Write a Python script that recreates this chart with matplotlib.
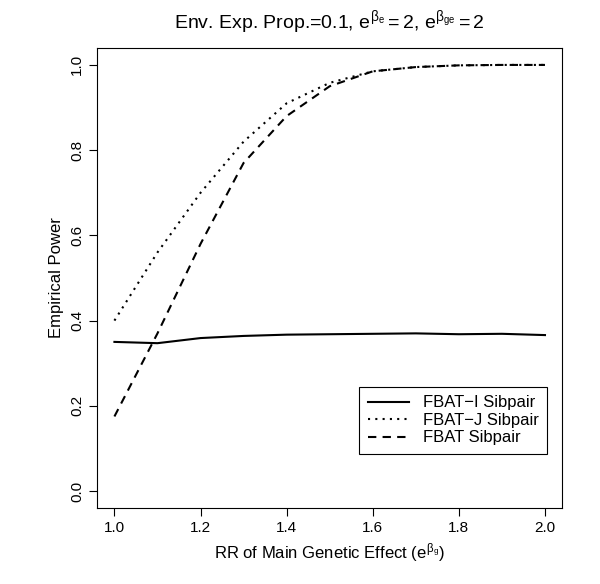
import matplotlib
matplotlib.use("Agg")
import matplotlib.pyplot as plt

plt.rcParams['font.family'] = 'Liberation Sans'
plt.rcParams['mathtext.fontset'] = 'custom'
plt.rcParams['mathtext.rm'] = 'Liberation Sans'
plt.rcParams['mathtext.it'] = 'Liberation Sans'

rr = [1.0, 1.1, 1.2, 1.3, 1.4, 1.5, 1.6, 1.7, 1.8, 1.9, 2.0]
fbat_i = [0.350, 0.347, 0.359, 0.364, 0.367, 0.368, 0.369, 0.370, 0.368, 0.369, 0.366]
fbat_j = [0.400, 0.560, 0.700, 0.820, 0.910, 0.958, 0.985, 0.995, 0.999, 1.000, 1.000]
fbat = [0.175, 0.370, 0.580, 0.770, 0.880, 0.950, 0.985, 0.995, 0.999, 1.000, 1.000]

fig = plt.figure(figsize=(6, 5.84), dpi=100)
ax = fig.add_axes([0.162, 0.130, 0.775, 0.788])
ax.plot(rr, fbat_i, 'k-', lw=1.5, label='FBAT\u2212I Sibpair')
ax.plot(rr, fbat_j, 'k', ls=(0, (1, 2.5)), lw=1.5, label='FBAT\u2212J Sibpair')
ax.plot(rr, fbat, 'k', ls=(0, (4, 3)), lw=1.5, label='FBAT Sibpair')
ax.set_xlim(0.96, 2.04)
ax.set_ylim(-0.04, 1.04)
ax.set_xticks([1.0, 1.2, 1.4, 1.6, 1.8, 2.0])
ax.set_yticks([0.0, 0.2, 0.4, 0.6, 0.8, 1.0])
ax.set_yticklabels(['0.0', '0.2', '0.4', '0.6', '0.8', '1.0'], rotation=90, va='center')
ax.tick_params(labelsize=11, length=6)
ax.set_xlabel(r'RR of Main Genetic Effect ($e^{\beta_g}$)', fontsize=12)
ax.set_ylabel('Empirical Power', fontsize=12)
ax.set_title(r'Env. Exp. Prop.=0.1, $e^{\beta_e} = 2$, $e^{\beta_{ge}} = 2$', fontsize=14, pad=14)
leg = ax.legend(loc='lower right', bbox_to_anchor=(0.985, 0.10), fontsize=12, fancybox=False,
                edgecolor='black', framealpha=1, handlelength=2.5, borderpad=0.5, labelspacing=0.15)
leg.get_frame().set_linewidth(0.8)
fig.savefig('out.png', dpi=100)
